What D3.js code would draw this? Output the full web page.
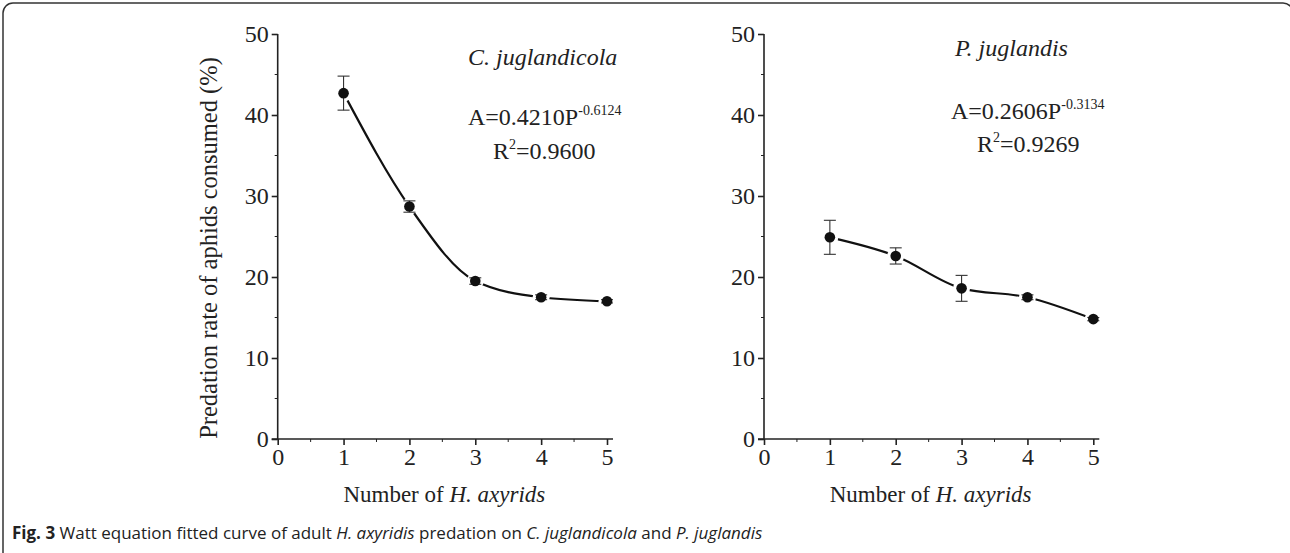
<!DOCTYPE html>
<html>
<head>
<meta charset="utf-8">
<script src="https://cdn.jsdelivr.net/npm/d3@7"></script>
<style>
	body { margin: 0; background: #fff; }
	svg { display: block; }
	.serif { font-family: 'Liberation Serif', 'Times New Roman', serif; fill: #222; }
</style>
</head>
<body>
<div id="chart"></div>
<script>
const doses = [1, 2, 3, 4, 5];
const xTicks = [0, 1, 2, 3, 4, 5];
const yTicks = [0, 10, 20, 30, 40, 50];
const cjMean = [42.7, 28.7, 19.5, 17.5, 17.0];
const cjErr = [2.1, 0.7, 0.4, 0.3, 0.2];
const pjMean = [24.9, 22.6, 18.6, 17.5, 14.8];
const pjErr = [2.1, 1.0, 1.6, 0.3, 0.2];

const W = 1290, H = 553;
const svg = d3.select('#chart').append('svg')
	.attr('width', W)
	.attr('height', H);

// frame
svg.append('rect')
	.attr('x', 3).attr('y', 3)
	.attr('width', 1290).attr('height', 560)
	.attr('rx', 10)
	.attr('fill', 'none')
	.attr('stroke', '#333')
	.attr('stroke-width', 1.5);

function drawPanel(opt) {
	const x = d3.scaleLinear().domain([0, 5]).range([opt.x0, opt.x1]);
	const y = d3.scaleLinear().domain([0, 50]).range([439, 34]);
	const g = svg.append('g');

	const xAxis = g.append('g')
		.attr('transform', 'translate(0,439)')
		.call(d3.axisBottom(x).tickValues(xTicks).tickSize(6).tickPadding(3).tickFormat(d3.format('d')));
	xAxis.select('.domain').attr('d', `M${opt.x0 - 6},0H${opt.x1 + 6}`);

	const yAxis = g.append('g')
		.attr('transform', `translate(${opt.x0},0)`)
		.call(d3.axisLeft(y).tickValues(yTicks).tickSize(6).tickPadding(3));
	yAxis.select('.domain').attr('d', 'M0,439V34');

	// minor ticks
	g.append('g').selectAll('line')
		.data([5, 15, 25, 35, 45])
		.join('line')
		.attr('x1', opt.x0 - 3).attr('x2', opt.x0)
		.attr('y1', d => y(d)).attr('y2', d => y(d))
		.attr('stroke', '#222');
	g.append('g').selectAll('line')
		.data([0.5, 1.5, 2.5, 3.5, 4.5])
		.join('line')
		.attr('x1', d => x(d)).attr('x2', d => x(d))
		.attr('y1', 439).attr('y2', 442)
		.attr('stroke', '#222');

	[xAxis, yAxis].forEach(a => {
		a.selectAll('.domain, line').attr('stroke', '#222').attr('stroke-width', 1.6);
		a.selectAll('text')
			.attr('class', 'serif')
			.attr('font-size', 24)
			.attr('fill', '#222');
	});

	const pts = doses.map((d, i) => ({ x: d, y: opt.mean[i], e: opt.err[i] }));

	const line = d3.line()
		.x(d => x(d.x))
		.y(d => y(d.y))
		.curve(d3.curveMonotoneX);

	g.append('path')
		.datum(pts)
		.attr('d', line)
		.attr('fill', 'none')
		.attr('stroke', '#111')
		.attr('stroke-width', 2.2);

	// white halo breaks the curve around each marker
	g.append('g').selectAll('circle')
		.data(pts)
		.join('circle')
		.attr('cx', d => x(d.x)).attr('cy', d => y(d.y))
		.attr('r', 8.5)
		.attr('fill', '#fff');

	const eb = g.append('g').attr('stroke', '#333').attr('stroke-width', 1.1);
	eb.selectAll('.v').data(pts).join('line')
		.attr('x1', d => x(d.x)).attr('x2', d => x(d.x))
		.attr('y1', d => y(d.y - d.e)).attr('y2', d => y(d.y + d.e));
	eb.selectAll('.t').data(pts).join('line')
		.attr('x1', d => x(d.x) - 6).attr('x2', d => x(d.x) + 6)
		.attr('y1', d => y(d.y + d.e)).attr('y2', d => y(d.y + d.e));
	eb.selectAll('.b').data(pts).join('line')
		.attr('x1', d => x(d.x) - 6).attr('x2', d => x(d.x) + 6)
		.attr('y1', d => y(d.y - d.e)).attr('y2', d => y(d.y - d.e));

	g.append('g').selectAll('circle')
		.data(pts)
		.join('circle')
		.attr('cx', d => x(d.x)).attr('cy', d => y(d.y))
		.attr('r', 5.3)
		.attr('fill', '#111');

	// species name
	g.append('text')
		.attr('class', 'serif')
		.attr('x', opt.nameX).attr('y', opt.nameY)
		.attr('font-size', 24)
		.attr('font-style', 'italic')
		.text(opt.name);

	const eq = g.append('text')
		.attr('class', 'serif')
		.attr('x', opt.eqX).attr('y', opt.eqY)
		.attr('font-size', 24);
	eq.append('tspan').text(opt.eq);
	eq.append('tspan').attr('dy', -10).attr('font-size', 14).text(opt.exp);

	const r2 = g.append('text')
		.attr('class', 'serif')
		.attr('x', opt.r2X).attr('y', opt.r2Y)
		.attr('font-size', 24);
	r2.append('tspan').text('R');
	r2.append('tspan').attr('dy', -10).attr('font-size', 14).text('2');
	r2.append('tspan').attr('dy', 10).text('=' + opt.r2);

	const lab = g.append('text')
		.attr('class', 'serif')
		.attr('x', (opt.x0 + opt.x1) / 2 + 2).attr('y', 502)
		.attr('text-anchor', 'middle')
		.attr('font-size', 23);
	lab.append('tspan').text('Number of ');
	lab.append('tspan').attr('font-style', 'italic').text('H. axyrids');
}

drawPanel({
	x0: 277.7, x1: 607,
	mean: cjMean, err: cjErr,
	name: 'C. juglandicola', nameX: 468, nameY: 65,
	eq: 'A=0.4210P', exp: '-0.6124', eqX: 468, eqY: 125,
	r2: '0.9600', r2X: 493, r2Y: 159
});

drawPanel({
	x0: 764, x1: 1093.3,
	mean: pjMean, err: pjErr,
	name: 'P. juglandis', nameX: 955, nameY: 56,
	eq: 'A=0.2606P', exp: '-0.3134', eqX: 951, eqY: 119,
	r2: '0.9269', r2X: 977, r2Y: 152
});

svg.append('text')
	.attr('class', 'serif')
	.attr('transform', 'translate(217,248) rotate(-90)')
	.attr('text-anchor', 'middle')
	.attr('font-size', 24.5)
	.text('Predation rate of aphids consumed (%)');

const cap = svg.append('text')
	.attr('x', 12).attr('y', 539)
	.attr('font-family', "'Open Sans', 'Noto Sans', sans-serif")
	.attr('font-size', 17)
	.attr('fill', '#222');
cap.append('tspan').attr('font-weight', 'bold').text('Fig. 3');
cap.append('tspan').text(' Watt equation fitted curve of adult ');
cap.append('tspan').attr('font-style', 'italic').text('H. axyridis');
cap.append('tspan').text(' predation on ');
cap.append('tspan').attr('font-style', 'italic').text('C. juglandicola');
cap.append('tspan').text(' and ');
cap.append('tspan').attr('font-style', 'italic').text('P. juglandis');
</script>
</body>
</html>
